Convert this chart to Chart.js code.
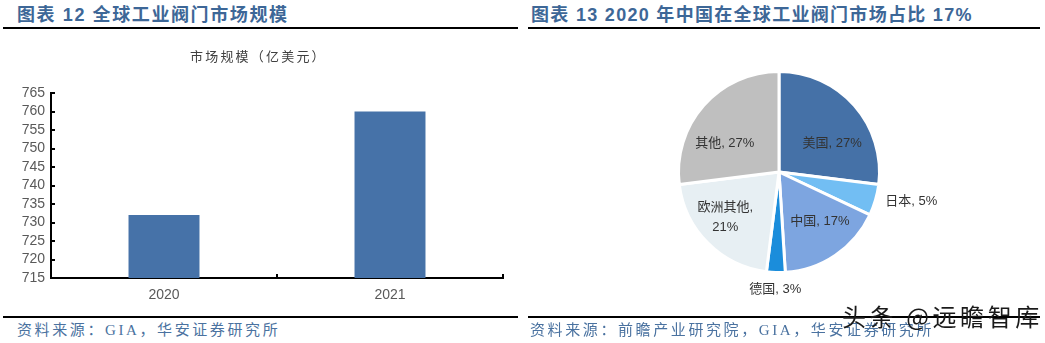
<!DOCTYPE html>
<html>
<head>
<meta charset="utf-8">
<script src="https://cdn.jsdelivr.net/npm/chart.js@4/dist/chart.umd.min.js"></script>
<style>
  html, body { margin: 0; padding: 0; background: #fff; }
  body { width: 1045px; height: 343px; position: relative; overflow: hidden; }
  .abs { position: absolute; white-space: nowrap; }
  .title { font: bold 18px "Liberation Sans", "Noto Sans CJK SC", sans-serif; color: #3D6797; letter-spacing: 1.6px; line-height: 22px; }
  .rule { background: #000; }
  .foot { font: 15px "Liberation Serif", "Noto Sans CJK SC", serif; color: #4A72A0; letter-spacing: 2.6px; line-height: 18px; }
  .sub { font: 13px "Noto Sans CJK SC", sans-serif; color: #404040; letter-spacing: 2.2px; line-height: 16px; }
  .wm { font: 24px "Noto Sans CJK SC", sans-serif; color: #1a1a1a; letter-spacing: 3.6px; line-height: 28px; }
  canvas { position: absolute; }
</style>
</head>
<body>
<div class="abs title" style="left:17px;top:4px">图表 12 全球工业阀门市场规模</div>
<div class="abs title" style="left:531px;top:4px;letter-spacing:1.3px">图表 13 2020 年中国在全球工业阀门市场占比 17%</div>
<div class="abs rule" style="left:3px;top:27px;width:515px;height:2px"></div>
<div class="abs rule" style="left:528px;top:27px;width:512px;height:2px"></div>

<canvas id="bar" width="520" height="310" style="left:0;top:0;width:520px;height:310px"></canvas>
<canvas id="pie" width="480" height="270" style="left:560px;top:40px;width:480px;height:270px"></canvas>
<div class="abs sub" style="left:190px;top:48px">市场规模（亿美元）</div>

<div class="abs rule" style="left:3px;top:316px;width:515px;height:1.5px"></div>
<div class="abs rule" style="left:528px;top:316px;width:512px;height:1.5px"></div>
<div class="abs foot" style="left:17px;top:321px">资料来源：GIA，华安证券研究所</div>
<div class="abs foot" style="left:530px;top:321px">资料来源：前瞻产业研究院，GIA，华安证券研究所</div>
<div class="abs wm" style="left:842px;top:302px">头条 @远瞻智库</div>

<script>
// ---- Data ----
const barCategories = ['2020', '2021'];
const barValues = [732, 760];
const yMin = 715, yMax = 765, yStep = 5;

const pieCategories = ['美国', '日本', '中国', '德国', '欧洲其他', '其他'];
const pieValues = [27, 5, 17, 3, 21, 27];

// ---- Styles ----
const barColor = '#4672A8';
const pieColors = ['#4571A7', '#72BEF3', '#7DA5E0', '#1B8DDB', '#E7EFF3', '#BFBFBF'];
// label placement: radius factor, px offsets, line split
const pieLabelStyle = [
  { f: 0.60, ox: 8, oy: 11 },
  { f: 1.34, ox: 3, oy: -8 },
  { f: 0.60, ox: 7, oy: 0 },
  { f: 1.16, ox: 0, oy: 1 },
  { f: 0.70, ox: -4, oy: -4, wrap: true },
  { f: 0.60, ox: -9, oy: 11 }
];

// inward tick marks for bar chart axes
const innerTicks = {
  id: 'innerTicks',
  afterDraw(chart) {
    const ctx = chart.ctx, ys = chart.scales.y, xs = chart.scales.x;
    const area = chart.chartArea;
    ctx.save();
    ctx.strokeStyle = '#000';
    ctx.lineWidth = 2;
    ys.ticks.forEach(t => {
      const py = Math.round(ys.getPixelForValue(t.value));
      ctx.beginPath();
      ctx.moveTo(area.left, py);
      ctx.lineTo(area.left + 4, py);
      ctx.stroke();
    });
    const n = xs.ticks.length;
    const bounds = [];
    for (let i = 0; i < n - 1; i++) bounds.push((xs.getPixelForTick(i) + xs.getPixelForTick(i + 1)) / 2);
    bounds.push(area.right);
    bounds.forEach(px => {
      ctx.beginPath();
      ctx.moveTo(px, area.bottom);
      ctx.lineTo(px, area.bottom - 4);
      ctx.stroke();
    });
    ctx.restore();
  }
};

new Chart(document.getElementById('bar'), {
  type: 'bar',
  data: {
    labels: barCategories,
    datasets: [{ data: barValues, backgroundColor: barColor, barPercentage: 0.314, categoryPercentage: 1 }]
  },
  options: {
    responsive: false,
    devicePixelRatio: 1,
    animation: false,
    layout: { padding: { left: 0, right: 17, top: 93, bottom: 0 } },
    plugins: { legend: { display: false }, tooltip: { enabled: false } },
    scales: {
      x: {
        grid: { display: true, drawOnChartArea: false, drawTicks: false },
        border: { display: true, color: '#000', width: 2 },
        ticks: { color: '#595959', font: { family: 'Liberation Sans', size: 14 }, padding: 9 },
        afterFit: s => { s.height = 32; }
      },
      y: {
        min: yMin, max: yMax,
        grid: { display: true, drawOnChartArea: false, drawTicks: false },
        border: { display: true, color: '#000', width: 2 },
        ticks: { stepSize: yStep, autoSkip: false, color: '#595959', font: { family: 'Liberation Sans', size: 14 }, padding: 6 },
        afterFit: s => { s.width = 51; }
      }
    }
  },
  plugins: [innerTicks]
});

const pieLabels = {
  id: 'pieLabels',
  afterDatasetsDraw(chart) {
    const ctx = chart.ctx;
    const meta = chart.getDatasetMeta(0);
    const total = pieValues.reduce((a, b) => a + b, 0);
    ctx.save();
    ctx.fillStyle = '#333';
    ctx.font = '13px "Liberation Sans", "Noto Sans CJK SC", sans-serif';
    ctx.textAlign = 'center';
    ctx.textBaseline = 'middle';
    meta.data.forEach((arc, i) => {
      const p = arc.getProps(['x', 'y', 'startAngle', 'endAngle', 'outerRadius'], true);
      const mid = (p.startAngle + p.endAngle) / 2;
      const st = pieLabelStyle[i];
      const lx = p.x + Math.cos(mid) * p.outerRadius * st.f + st.ox;
      const ly = p.y + Math.sin(mid) * p.outerRadius * st.f + st.oy;
      const pct = Math.round(pieValues[i] / total * 100) + '%';
      if (st.wrap) {
        ctx.fillText(pieCategories[i] + ',', lx, ly - 10);
        ctx.fillText(pct, lx, ly + 10);
      } else {
        ctx.fillText(pieCategories[i] + ', ' + pct, lx, ly);
      }
    });
    ctx.restore();
  }
};

new Chart(document.getElementById('pie'), {
  type: 'pie',
  data: {
    labels: pieCategories,
    datasets: [{ data: pieValues, backgroundColor: pieColors, borderColor: '#fff', borderWidth: 3 }]
  },
  options: {
    responsive: false,
    devicePixelRatio: 1,
    animation: false,
    layout: { padding: { left: 117, right: 159, top: 30, bottom: 36 } },
    plugins: { legend: { display: false }, tooltip: { enabled: false } }
  },
  plugins: [pieLabels]
});
</script>
</body>
</html>
